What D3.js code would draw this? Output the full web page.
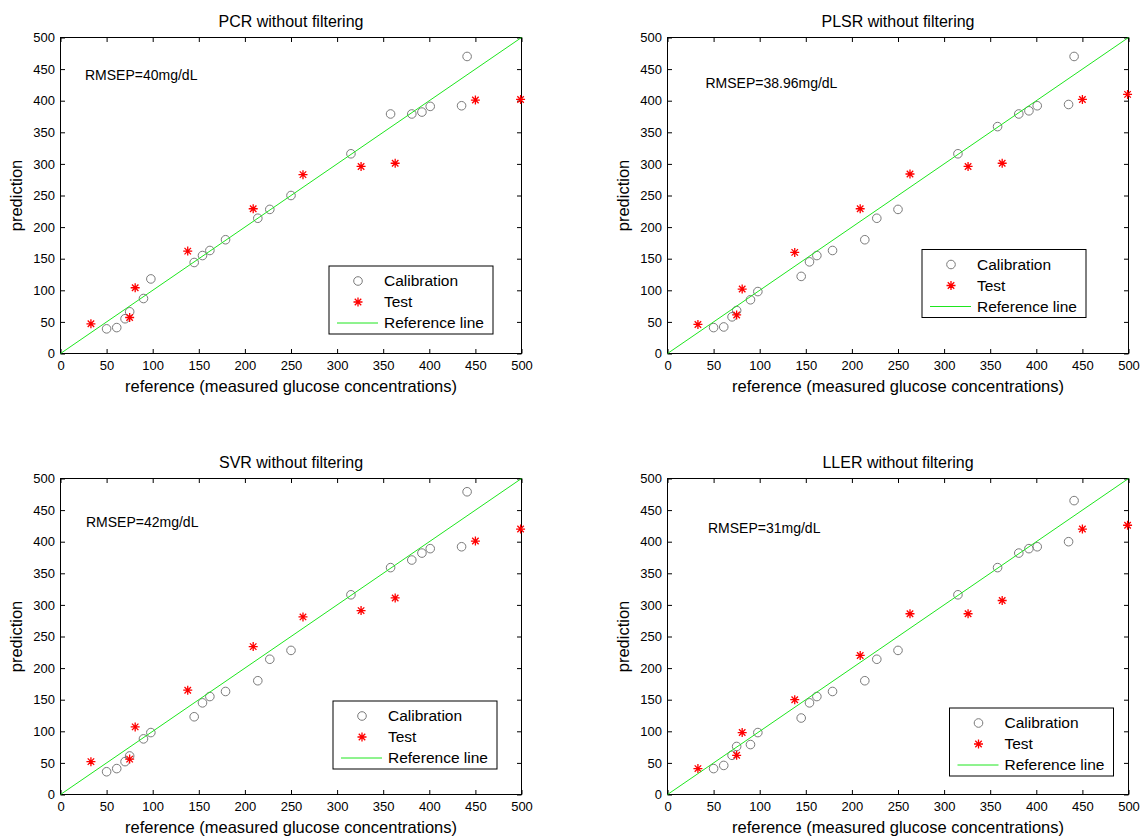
<!DOCTYPE html>
<html>
<head>
<meta charset="utf-8">
<script src="https://cdn.jsdelivr.net/npm/d3@7"></script>
<style>
  body { margin: 0; background: #fff; }
  svg { display: block; font-family: "Liberation Sans", Arial, sans-serif; }
</style>
</head>
<body>
<svg id="chart" width="1142" height="839"></svg>
<script>
// reference values shared by all four models
const calX = [50, 61, 70, 75, 90, 98, 145, 154, 162, 179, 214, 227, 250, 315, 358, 381, 392, 401, 435, 441];
const testX = [33, 75, 81, 138, 209, 263, 326, 363, 450, 499];

// predictions
const pcrCal = [39, 41, 55, 66, 87, 118, 144, 155, 163, 180, 214, 228, 250, 316, 379, 379, 382, 391, 392, 470];
const pcrTest = [47, 57, 104, 162, 229, 283, 296, 301, 401, 402];
const plsrCal = [41, 42, 58, 68, 85, 98, 122, 145, 155, 163, 180, 214, 228, 316, 359, 379, 384, 392, 394, 470];
const plsrTest = [46, 61, 102, 160, 229, 284, 296, 301, 402, 410];
const svrCal = [36, 41, 52, 61, 88, 98, 123, 145, 155, 163, 180, 214, 228, 316, 359, 371, 382, 389, 392, 479];
const svrTest = [52, 56, 107, 165, 234, 281, 291, 311, 401, 420];
const llerCal = [41, 46, 62, 76, 79, 98, 121, 145, 155, 163, 180, 214, 228, 316, 359, 382, 389, 392, 400, 465];
const llerTest = [41, 62, 98, 150, 220, 286, 286, 307, 420, 426];

const titles = ["PCR without filtering", "PLSR without filtering", "SVR without filtering", "LLER without filtering"];
const rmsepLabels = ["RMSEP=40mg/dL", "RMSEP=38.96mg/dL", "RMSEP=42mg/dL", "RMSEP=31mg/dL"];
const legendLabels = ["Calibration", "Test", "Reference line"];
const refLine = [0, 500];
const ticks = d3.range(0, 501, 50);

// layout of each panel (plot box, legend box, rmsep text)
const layout = [
  { left: 60.5, top: 37.5, legend: [329, 266], note: [85, 79.5] },
  { left: 667.5, top: 37.5, legend: [922, 249.5], note: [705.5, 88] },
  { left: 60.5, top: 478.5, legend: [333, 701], note: [86, 527] },
  { left: 667.5, top: 478.5, legend: [949.5, 708], note: [708, 533] }
];
const seriesCal = [pcrCal, plsrCal, svrCal, llerCal];
const seriesTest = [pcrTest, plsrTest, svrTest, llerTest];

const plotW = 461, plotH = 316;
const svg = d3.select("#chart");
svg.append("rect").attr("width", 1142).attr("height", 839).attr("fill", "#fff");

const circleColor = "#7a7a7a";
const starColor = "#ff0000";
const lineColor = "#1ee61e";

// matlab style '*' marker
const asterisk = {
  draw(ctx, size) {
    const r = Math.sqrt(size) / 2;
    const d = r * 0.72;
    ctx.moveTo(-r, 0); ctx.lineTo(r, 0);
    ctx.moveTo(0, -r); ctx.lineTo(0, r);
    ctx.moveTo(-d, -d); ctx.lineTo(d, d);
    ctx.moveTo(-d, d); ctx.lineTo(d, -d);
  }
};
const starPath = d3.symbol(asterisk, 81)();

layout.forEach((p, i) => {
  const g = svg.append("g");
  const x = d3.scaleLinear().domain([0, 500]).range([p.left, p.left + plotW]);
  const y = d3.scaleLinear().domain([0, 500]).range([p.top + plotH, p.top]);

  // axes, ticks pointing inward on all four sides
  const bottom = g.append("g").attr("transform", `translate(0,${p.top + plotH})`)
    .call(d3.axisBottom(x).tickValues(ticks).tickSizeInner(-4.5).tickSizeOuter(0).tickPadding(7.5));
  const left = g.append("g").attr("transform", `translate(${p.left},0)`)
    .call(d3.axisLeft(y).tickValues(ticks).tickSizeInner(-4.5).tickSizeOuter(0).tickPadding(5.5));
  const top = g.append("g").attr("transform", `translate(0,${p.top})`)
    .call(d3.axisTop(x).tickValues(ticks).tickSizeInner(-4.5).tickSizeOuter(0).tickFormat(""));
  const right = g.append("g").attr("transform", `translate(${p.left + plotW},0)`)
    .call(d3.axisRight(y).tickValues(ticks).tickSizeInner(-4.5).tickSizeOuter(0).tickFormat(""));
  [bottom, left, top, right].forEach(a => {
    a.select(".domain").remove();
    a.selectAll("line").attr("stroke", "#000");
    a.selectAll("text").attr("fill", "#000").attr("font-size", 13)
      .attr("font-family", "\"Liberation Sans\", Arial, sans-serif");
  });
  g.append("rect")
    .attr("x", p.left).attr("y", p.top)
    .attr("width", plotW).attr("height", plotH)
    .attr("fill", "none").attr("stroke", "#000").attr("stroke-width", 1);

  // calibration circles
  g.selectAll("circle.cal")
    .data(calX.map((v, k) => [v, seriesCal[i][k]]))
    .join("circle")
    .attr("class", "cal")
    .attr("cx", d => x(d[0])).attr("cy", d => y(d[1]))
    .attr("r", 4.3)
    .attr("fill", "none").attr("stroke", circleColor).attr("stroke-width", 1);

  // test stars
  g.selectAll("path.test")
    .data(testX.map((v, k) => [v, seriesTest[i][k]]))
    .join("path")
    .attr("class", "test")
    .attr("transform", d => `translate(${x(d[0])},${y(d[1])})`)
    .attr("d", starPath)
    .attr("fill", "none").attr("stroke", starColor).attr("stroke-width", 1.3);

  // reference line y = x
  g.append("path")
    .datum(refLine)
    .attr("d", d3.line().x(d => x(d)).y(d => y(d)))
    .attr("fill", "none").attr("stroke", lineColor).attr("stroke-width", 1);

  // labels
  g.append("text")
    .attr("x", p.left + plotW / 2).attr("y", p.top - 11)
    .attr("text-anchor", "middle").attr("font-size", 16).attr("fill", "#000")
    .text(titles[i]);
  g.append("text")
    .attr("x", p.left + plotW / 2).attr("y", p.top + plotH + 38)
    .attr("text-anchor", "middle").attr("font-size", 16.5).attr("fill", "#000")
    .text("reference (measured glucose concentrations)");
  g.append("text")
    .attr("transform", `translate(${p.left - 39},${p.top + plotH / 2}) rotate(-90)`)
    .attr("text-anchor", "middle").attr("font-size", 16.5).attr("fill", "#000")
    .text("prediction");
  g.append("text")
    .attr("x", p.note[0]).attr("y", p.note[1])
    .attr("font-size", 14).attr("fill", "#000")
    .text(rmsepLabels[i]);

  // legend
  const [lx, ly] = p.legend;
  const lg = g.append("g").attr("transform", `translate(${lx},${ly})`);
  lg.append("rect")
    .attr("width", 164).attr("height", 68)
    .attr("fill", "#fff").attr("stroke", "#000").attr("stroke-width", 1);
  const rowY = [15, 36, 57];
  lg.append("circle").attr("cx", 29).attr("cy", rowY[0]).attr("r", 4.3)
    .attr("fill", "none").attr("stroke", circleColor);
  lg.append("path").attr("transform", `translate(29,${rowY[1]})`).attr("d", starPath)
    .attr("fill", "none").attr("stroke", starColor).attr("stroke-width", 1.3);
  lg.append("line").attr("x1", 8).attr("x2", 49).attr("y1", rowY[2]).attr("y2", rowY[2])
    .attr("stroke", lineColor);
  lg.selectAll("text.lab")
    .data(legendLabels)
    .join("text")
    .attr("class", "lab")
    .attr("x", 55).attr("y", (d, k) => rowY[k])
    .attr("dy", "0.35em").attr("font-size", 15.5).attr("fill", "#000")
    .text(d => d);
});
</script>
</body>
</html>
